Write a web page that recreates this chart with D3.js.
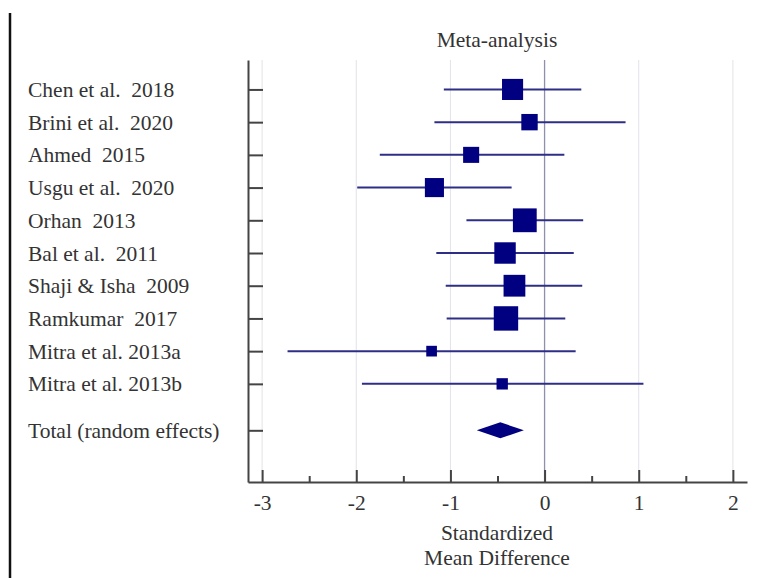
<!DOCTYPE html>
<html>
<head>
<meta charset="utf-8">
<script src="https://cdn.jsdelivr.net/npm/d3@7"></script>
<style>
  body { margin: 0; background: #fff; }
  svg text { font-family: "Liberation Serif", "Times New Roman", serif !important; fill: #333; white-space: pre; }
</style>
</head>
<body>
<svg id="chart" width="759" height="578"></svg>
<script>
// study rows, top to bottom
var studies = ["Chen et al.  2018", "Brini et al.  2020", "Ahmed  2015", "Usgu et al.  2020",
  "Orhan  2013", "Bal et al.  2011", "Shaji & Isha  2009", "Ramkumar  2017",
  "Mitra et al. 2013a", "Mitra et al. 2013b"];
var smd   = [-0.34, -0.16, -0.78, -1.17, -0.21, -0.42, -0.32, -0.41, -1.20, -0.45];
var lower = [-1.07, -1.17, -1.75, -1.99, -0.83, -1.15, -1.05, -1.04, -2.73, -1.94];
var upper = [ 0.39,  0.86,  0.21, -0.35,  0.41,  0.31,  0.40,  0.22,  0.33,  1.05];
var weight = [12.1, 7.3, 7.0, 9.9, 15.4, 12.5, 12.9, 16.2, 3.1, 3.5];

var totalLabel = "Total (random effects)";
var total = {est: -0.47, lo: -0.72, hi: -0.22};

var xTicks = [-3, -2, -1, 0, 1, 2];
var xMinor = [-2.5, -1.5, -0.5, 0.5, 1.5];

var svg = d3.select("#chart");
var fs = "21.5px";

var x = d3.scaleLinear().domain([-3.15, 2.15]).range([248, 747]);
var y = d3.scaleLinear().domain([-0.9, 12]).range([60, 482]);
var size = d3.scaleSqrt().domain([0, 16.2]).range([0, 24.4]);

var rows = studies.map(function(s, i) { return i; });
var totalRow = 10.42;

// page edge line
svg.append("line")
    .attr("x1", 10).attr("x2", 10)
    .attr("y1", 13).attr("y2", 578)
    .attr("stroke", "#111").attr("stroke-width", 2.5);

// grid
svg.append("g")
  .selectAll("line")
  .data(xTicks)
  .enter().append("line")
    .attr("x1", function(d) { return x(d); })
    .attr("x2", function(d) { return x(d); })
    .attr("y1", 60).attr("y2", 482)
    .attr("stroke", function(d) { return d === 0 ? "#8f8fb0" : "#e2e2ea"; })
    .attr("stroke-width", function(d) { return d === 0 ? 1.3 : 1; });

// axes
var xAxis = svg.append("g")
    .attr("transform", "translate(0,482)")
    .call(d3.axisBottom(x).tickValues(xTicks).tickSize(-12).tickSizeOuter(0).tickPadding(13)
      .tickFormat(function(d) { return String(d); }));
xAxis.attr("font-family", null).attr("font-size", null);
xAxis.selectAll("text")
    .style("font-size", fs)
    .attr("fill", "#333");

svg.append("g")
    .attr("transform", "translate(0,482)")
    .call(d3.axisBottom(x).tickValues(xMinor).tickSize(-6).tickSizeOuter(0).tickFormat(""))
    .select(".domain").remove();

svg.append("g")
    .attr("transform", "translate(248,0)")
    .call(d3.axisLeft(y).tickValues(rows.concat([totalRow])).tickSize(-15).tickSizeOuter(0).tickFormat(""));

svg.selectAll(".domain, .tick line").attr("stroke", "#444").attr("stroke-width", 2);

// labels
svg.append("g")
  .selectAll("text")
  .data(studies.concat([totalLabel]))
  .enter().append("text")
    .attr("x", 28)
    .attr("y", function(d, i) { return y(i < studies.length ? i : totalRow); })
    .attr("dy", "0.35em")
    .style("font-size", fs)
    .text(function(d) { return d; });

svg.append("text")
    .attr("x", 497).attr("y", 47)
    .attr("text-anchor", "middle")
    .style("font-size", fs)
    .text("Meta-analysis");

svg.append("text")
    .attr("x", 497).attr("y", 540)
    .attr("text-anchor", "middle")
    .style("font-size", fs)
    .text("Standardized");

svg.append("text")
    .attr("x", 497).attr("y", 565)
    .attr("text-anchor", "middle")
    .style("font-size", fs)
    .text("Mean Difference");

// confidence intervals
svg.append("g")
  .selectAll("line")
  .data(rows)
  .enter().append("line")
    .attr("x1", function(i) { return x(lower[i]); })
    .attr("x2", function(i) { return x(upper[i]); })
    .attr("y1", function(i) { return y(i); })
    .attr("y2", function(i) { return y(i); })
    .attr("stroke", "#2e2e86")
    .attr("stroke-width", 2);

// weighted squares
svg.append("g")
  .selectAll("rect")
  .data(rows)
  .enter().append("rect")
    .attr("x", function(i) { return x(smd[i]) - size(weight[i]) / 2; })
    .attr("y", function(i) { return y(i) - size(weight[i]) / 2; })
    .attr("width", function(i) { return size(weight[i]); })
    .attr("height", function(i) { return size(weight[i]); })
    .attr("fill", "#000080");

// pooled diamond
var ty = y(totalRow);
svg.append("path")
    .attr("d", "M" + x(total.lo) + "," + ty +
               "L" + x(total.est) + "," + (ty - 8) +
               "L" + x(total.hi) + "," + ty +
               "L" + x(total.est) + "," + (ty + 8) + "Z")
    .attr("fill", "#000080");
</script>
</body>
</html>
